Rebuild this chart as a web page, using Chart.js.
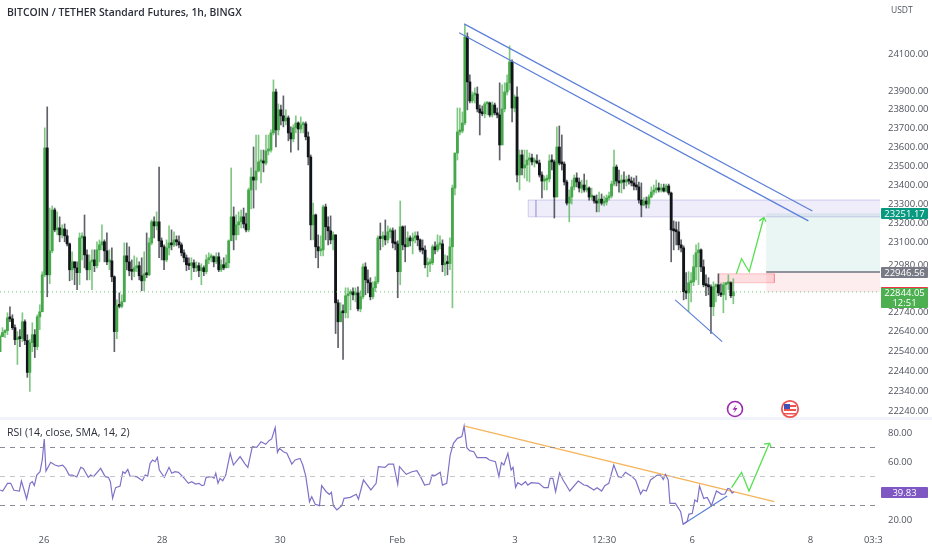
<!DOCTYPE html>
<html>
<head>
<meta charset="utf-8">
<script src="https://cdn.jsdelivr.net/npm/chart.js@4"></script>
<style>
    html, body { margin: 0; padding: 0; background: #fff; }
    #wrap { position: relative; width: 932px; height: 550px; overflow: hidden; font-family: 'Open Sans', sans-serif; }
    canvas { position: absolute; left: 0; }
    #priceChart { top: 0; }
    #rsiChart { top: 420px; }
    #sep { position: absolute; left: 0; top: 417px; width: 932px; height: 3px; background: #f0f3fa; }
    .txt { position: absolute; white-space: nowrap; }
    .title { left: 7px; top: 5px; font-size: 10.4px; font-weight: 600; color: #2a2e39; }
    .rsi { left: 7px; top: 425px; font-size: 10.5px; color: #2a2e39; }
    .unit { left: 891px; top: 4px; font-size: 8.5px; color: #50535e; }
    .tag { position: absolute; left: 881px; width: 47px; color: #fff; font-size: 9.5px; text-align: center; border-radius: 1px; line-height: 11px; }
    .icon { position: absolute; }
</style>
</head>
<body>
<div id="wrap">
    <canvas id="priceChart" width="932" height="418"></canvas>
    <div id="sep"></div>
    <canvas id="rsiChart" width="932" height="130"></canvas>

    <div class="txt title">BITCOIN / TETHER Standard Futures, 1h, BINGX</div>
    <div class="txt rsi">RSI (14, close, SMA, 14, 2)</div>
    <div class="txt unit">USDT</div>

    <div class="tag" style="top:208px;background:#089981;">23251.17</div>
    <div class="tag" style="top:267px;background:#787b86;">22946.56</div>
    <div class="tag" style="top:287px;height:20px;line-height:10px;background:#4caf50;border-top:1px solid #f23645;">22844.05<br>12:51</div>
    <div class="tag" style="top:487px;background:#7e57c2;">39.83</div>

    <svg class="icon" style="left:726px;top:400px" width="18" height="18" viewBox="0 0 18 18">
        <circle cx="9" cy="9" r="7.5" fill="#fff" stroke="#9c27b0" stroke-width="1.6"/>
        <path d="M10.5 4.5 L6.5 9.8 H9 L7.5 13.5 L11.5 8 H9 Z" fill="#9c27b0"/>
    </svg>
    <svg class="icon" style="left:780px;top:399px" width="20" height="20" viewBox="0 0 20 20">
        <circle cx="10" cy="10" r="8.2" fill="#fff" stroke="#ef5350" stroke-width="1.8"/>
        <rect x="4" y="6" width="12" height="2" fill="#ef5350"/>
        <rect x="4" y="10" width="12" height="2" fill="#ef5350"/>
        <rect x="4" y="14" width="12" height="1.5" fill="#ef5350"/>
        <rect x="4" y="5" width="6" height="5" fill="#3f51b5"/>
    </svg>
</div>

<script>
// x axis is in bar numbers, bar 0 sits on the left edge
const xEnd = 354;
const xTickBars = [17.7, 65.2, 112.7, 159.8, 207.2, 243, 278.5, 326, 351.3];
const xTickLabels = ['26', '28', '30', 'Feb', '3', '12:30', '6', '8', '03:3'];

const priceTicks = [24100, 23900, 23800, 23700, 23600, 23500, 23400, 23300, 23200, 23100, 22980, 22740, 22640, 22540, 22440, 22340, 22240];
const rsiTicks = [80, 60, 20];

const firstOpen = 22539;
const closes = [
    22615,22636,22646,22711,22706,22661,22600,22610,22605,22691,22595,22434,22585,22625,22564,22716,22742,22932,23596,22932,
    23056,23269,23165,23175,23139,23170,23134,23092,22958,22999,22968,22943,23123,23129,23035,22958,22999,23009,22979,23061,
    23087,23103,23056,22999,23004,22922,22641,22773,22770,22793,23030,22999,22953,22950,22968,22979,22927,22901,22937,22932,
    23097,23207,23186,23207,23108,23077,23009,23071,23097,23087,23113,23103,23087,23046,23020,22984,22980,22994,22968,22979,
    22953,22968,22948,23009,23020,23025,22999,23025,22958,22984,22968,22994,23108,23233,23139,23191,23207,23233,23196,23165,
    23374,23442,23426,23474,23522,23527,23516,23580,23585,23676,23895,23692,23799,23767,23740,23756,23676,23644,23703,23729,
    23697,23719,23724,23655,23548,23191,23243,23077,23056,23061,23285,23181,23160,23113,23139,22788,22691,22742,22737,22824,
    22834,22845,22829,22839,22757,22819,22973,22906,22891,22819,22865,22896,23123,23120,23134,23113,23155,23160,23097,23092,
    22948,23181,23087,23077,23123,23108,23123,23134,23113,23061,23060,22984,22989,22994,23077,23061,23087,23092,22984,22994,
    22990,23077,23384,23569,23681,23686,23729,24193,23949,23847,23879,23884,23804,23783,23778,23831,23836,23772,23825,23783,
    23772,23612,23804,23895,23944,24057,23809,23868,23453,23559,23490,23506,23532,23543,23522,23527,23516,23453,23421,23426,
    23432,23527,23522,23337,23601,23516,23511,23416,23305,23337,23390,23437,23416,23384,23400,23374,23384,23337,23342,23316,
    23305,23326,23305,23311,23332,23342,23405,23495,23421,23411,23426,23416,23426,23421,23411,23395,23390,23321,23295,23316,
    23300,23337,23363,23374,23384,23374,23384,23368,23395,23358,23165,23160,23155,23087,23071,22845,22839,22891,22896,22973,
    23046,23061,22973,22881,22876,22870,22768,22870,22881,22839,22829,22881,22886,22891,22824,22845
];
const highs = [
    22625,22661,22651,22737,22768,22727,22676,22641,22651,22737,22701,22625,22600,22686,22651,22727,22778,22948,23703,23815,
    23279,23290,23279,23259,23233,23191,23196,23165,23097,23051,22999,22999,23149,23149,23243,23061,23035,23061,23061,23103,
    23113,23191,23113,23149,23061,23071,22927,22803,22839,22829,23097,23097,23077,23009,23030,23020,22999,23020,23051,23149,
    23123,23217,23233,23259,23495,23123,23087,23113,23186,23165,23155,23134,23134,23097,23061,23035,23020,23020,23009,22999,
    22994,22989,22979,23035,23046,23040,23030,23046,23046,23009,23020,23035,23113,23490,23285,23243,23259,23269,23279,23253,
    23384,23490,23601,23665,23665,23585,23585,23665,23665,23692,23960,23911,23831,23825,23874,23799,23767,23708,23719,23767,
    23735,23761,23735,23735,23681,23559,23305,23248,23139,23134,23295,23300,23233,23238,23155,23139,22803,22788,22778,22865,
    22865,22855,22865,22865,22870,22850,22989,22994,22958,22917,22896,22922,23134,23201,23155,23217,23186,23175,23175,23165,
    23108,23316,23186,23186,23155,23134,23149,23155,23155,23118,23113,23082,23020,23015,23087,23103,23139,23134,23113,23035,
    23030,23123,23400,23569,23809,23809,23788,24258,24215,23987,23895,23917,23922,23825,23820,23841,23841,23841,23841,23836,
    23809,23944,23933,23944,23987,24144,24068,23879,23922,23585,23585,23585,23585,23569,23564,23543,23559,23532,23469,23448,
    23453,23559,23559,23532,23708,23713,23665,23522,23426,23374,23426,23453,23464,23437,23426,23458,23426,23390,23384,23342,
    23348,23363,23353,23342,23348,23363,23421,23585,23506,23479,23453,23469,23448,23453,23442,23437,23448,23416,23411,23332,
    23337,23348,23390,23400,23426,23411,23405,23405,23405,23405,23363,23212,23207,23207,23113,23082,22943,22948,22943,23035,
    23087,23097,23066,23009,22932,22917,22881,22896,22886,22937,22886,22891,22891,22932,22896,22912
];
const lows = [
    22539,22615,22610,22625,22691,22651,22575,22474,22564,22590,22575,22409,22338,22539,22509,22549,22651,22752,22922,22819,
    22886,23046,23155,23139,23103,23123,23103,23082,22901,22906,22881,22855,22881,23009,22968,22906,22906,22855,22948,22968,
    22999,23061,22999,22984,22958,22896,22539,22605,22762,22762,22803,22958,22927,22906,22922,22948,22906,22850,22850,22917,
    22927,23087,23123,23165,23020,23009,22958,22999,23035,23061,23077,23082,23071,23030,22999,22953,22958,22906,22948,22948,
    22922,22881,22927,22937,22989,22999,22973,22989,22948,22948,22958,22968,22968,23113,23061,23113,23139,23175,23175,23155,
    23155,23274,23279,23374,23469,23411,23469,23506,23559,23574,23665,23601,23665,23719,23708,23719,23634,23574,23628,23676,
    23585,23676,23676,23639,23506,23113,23113,23020,22968,23030,23030,23113,23087,23092,23061,22631,22559,22691,22499,22711,
    22711,22752,22803,22793,22747,22742,22808,22829,22839,22803,22808,22845,22886,23061,23077,23087,23097,23123,23071,23061,
    22814,22881,23061,22999,23087,23082,23040,23097,23082,23051,23040,22968,22922,22948,22984,23040,23051,23066,22948,22927,
    22932,22958,22762,23348,23532,23665,23676,23719,23799,23836,23836,23836,23788,23665,23767,23756,23772,23761,23761,23772,
    23756,23532,23612,23788,23879,23906,23735,23788,23416,23374,23453,23437,23421,23416,23506,23495,23511,23442,23332,23374,
    23374,23416,23479,23227,23337,23506,23479,23400,23295,23207,23300,23374,23390,23363,23358,23363,23363,23321,23321,23305,
    23259,23259,23295,23290,23295,23321,23332,23395,23395,23363,23358,23379,23395,23405,23395,23374,23374,23305,23233,23290,
    23279,23279,23332,23348,23358,23363,23363,23363,23363,23348,22999,23061,23087,23061,23051,22803,22808,22742,22793,22876,
    22906,22881,22948,22870,22824,22829,22631,22722,22793,22824,22819,22737,22803,22855,22814,22783
];

const rsiBars = [
    0,1.1,3,4.3,5.6,7.8,8.6,9.7,10.7,12.1,13,13.8,14.8,16.1,17,17.8,18.5,20.4,22.1,23.5,25.2,26.4,27.8,29.1,30.9,32.5,33.5,35.5,36.5,37.6,
    40.5,42.3,43.6,44.4,45.3,46.5,48.3,49.4,50.3,51.4,52.3,55,57.3,58.4,59.4,60.4,61.4,62.4,63.3,64.1,66.1,68,69.1,70.4,71.8,73.8,75.8,77.1,78.7,80.1,
    81.2,82.1,82.9,85.2,86.1,86.8,87.7,88.5,89.6,90.8,92.6,93.9,96.6,98.6,99.7,101.5,103.3,105,106.9,108.2,109.3,110.7,111.6,112.4,114,115.4,117.4,118.7,120.7,121.8,
    123,124.5,125.4,126.8,128.5,129.4,131.2,132.5,133.3,134.1,135.5,137.5,138.4,140.9,143.3,144.2,146.2,149.2,151.3,152.2,154.9,156.3,158.3,160,160.7,163.4,165.7,167.7,169.3,170.8,
    172.8,173.8,175,177.1,178,179.7,181.1,182.4,184,185.8,186.7,187.8,188.9,190.6,191.9,195.6,196.9,199.3,200.7,201.7,202.7,204.3,205.6,206.4,207.4,208.3,209.8,211.4,212.3,213.7,
    216.8,218.8,220.5,221.3,222.4,223.5,225.1,226.5,229.2,232.6,234.9,236.2,238.9,240.2,242,243.3,244.9,246.9,248.7,250,251.6,254.3,255.7,257.7,258.7,260,261.7,264.4,265.7,266.8,
    267.7,268.8,269.5,271.7,273.8,274.8,276.4,277.1,278.5,279.5,280.5,281.4,283.1,284.5,286.2,288.2,290.3,291.6,292.8,293.6,294.5,295.2
];
const rsiValues = [
    40.7,40,45.3,45.3,40.5,40,46.9,40.7,34.5,45.3,46.4,43.7,51,53.3,61.4,75.9,53.8,59.8,57.9,57.2,57.9,55.6,51,51,49.7,56.3,55.6,49.4,51,49.9,
    55.6,49.9,49.4,46.4,34.9,42.3,43.4,53.3,52.2,54.9,50.3,49.9,47.1,51,50.3,59.1,61.4,60.2,63.2,54.5,49.4,56.3,52.2,53.3,52.9,49.4,45.3,46.4,44.8,45.3,
    43.7,44.1,49.4,49.9,48.7,52.2,45.3,48.7,47.1,51,66,57.9,63.7,58.6,56.3,70.6,70.1,74,72.2,74.7,75.9,83.7,66.7,69.4,67.1,66,58.6,61.4,62.5,57.9,
    50.3,32.6,36.1,30.8,29.9,43.7,39.5,37.7,39.1,29.9,26.9,29.9,34.9,35.6,37.7,34.3,47.6,40.7,45.3,56.8,56.3,58.6,58.6,44.6,56.8,51.5,53.3,54,49.4,44.1,
    44.8,51,50.6,52.9,44.1,45.3,64.8,72.9,76.3,77.5,84.8,69.9,67.8,67.1,63,63,61.4,60.2,49.9,59.5,57.9,66,54.5,56.3,42.5,45.7,44.1,46.4,44.1,45.7,
    45.3,42.3,42.3,48.7,48.7,39.5,52.6,47.6,40,46.9,44.1,43.7,40.7,42.3,40,43.7,45.3,57.9,49.9,49.4,52.9,49.9,47.6,37.9,40.7,40,47.6,51,51,48,
    51.5,47.6,31.5,31.5,25.7,17,18.9,23.9,24.6,33.8,32.6,43.4,34.9,35.6,29.9,40,37.7,37.9,41.8,41.4,38.6,39.5
];

const lastPrice = 22844.05;
const entryPrice = 22946.56;
const targetPrice = 23251.17;

// drawings on the price pane
const upperTrendBars = [186.7, 326.8], upperTrendPrices = [24264, 23264];
const lowerTrendBars = [184.7, 325.2], lowerTrendPrices = [24215, 23212];
const wedgeBars = [271.6, 290.5], wedgePrices = [22803, 22590];
const pathBars = [296.2, 298.3, 301.4, 307.2], pathPrices = [22937, 23015, 22948, 23227];
const pathHeadBars = [305.4, 307.3, 308.1], pathHeadPrices = [23212, 23230, 23207];
const zoneBars = [212.5, 355], zonePrices = [23321, 23233];
const zoneEdgeBar = 215.6;
const profitBars = [308.2, 355], profitPrices = [targetPrice, entryPrice];
const stopBars = [308.2, 355], stopPrices = [entryPrice, lastPrice];
const smallBoxBars = [289, 311.5], smallBoxPrices = [22937, 22891];

// drawings on the rsi pane
const rsiLevels = [70, 50, 30];
const rsiFallBars = [187, 311.5], rsiFallValues = [84.8, 32.6];
const rsiRiseBars = [274.8, 292.5], rsiRiseValues = [17, 36.5];
const rsiPathBars = [294.3, 298.3, 301.3, 309.3], rsiPathValues = [42.3, 52.9, 40, 72.2];
const rsiHeadBars = [307.3, 309.6, 310.2], rsiHeadValues = [72.4, 72.9, 69.9];

const pts = (xs, ys) => xs.map((x, i) => ({ x: x, y: ys[i] }));

const lineSet = (data, color, width, dash) => ({
    type: 'line', data: data, borderColor: color, borderWidth: width, borderDash: dash || [],
    pointRadius: 0, fill: false, tension: 0, order: 1
});

const boxSet = (bars, prices, fillColor, lineColor) => ({
    type: 'line',
    data: pts([bars[0], bars[1], bars[1], bars[0], bars[0]], [prices[0], prices[0], prices[1], prices[1], prices[0]]),
    borderColor: lineColor, borderWidth: lineColor === 'transparent' ? 0 : 1, backgroundColor: fillColor,
    pointRadius: 0, fill: 'shape', tension: 0, order: 5
});

const isUp = closes.map((c, i) => c >= (i ? closes[i - 1] : firstOpen));

new Chart(document.getElementById('priceChart'), {
    type: 'bar',
    data: {
        datasets: [
            boxSet(zoneBars, zonePrices, 'rgba(103,88,200,0.11)', 'rgba(120,110,200,0.3)'),
            boxSet(profitBars, profitPrices, 'rgba(8,153,129,0.09)', 'transparent'),
            boxSet(stopBars, stopPrices, 'rgba(242,54,69,0.09)', 'transparent'),
            boxSet(smallBoxBars, smallBoxPrices, 'rgba(242,54,69,0.16)', 'rgba(242,120,130,0.4)'),
            lineSet(pts([zoneEdgeBar, zoneEdgeBar], zonePrices), 'rgba(120,110,200,0.3)', 1),
            {
                label: 'wicks',
                data: highs.map((h, i) => ({ x: i, y: [lows[i], h] })),
                backgroundColor: isUp.map(u => u ? 'rgba(76,175,80,0.7)' : 'rgba(40,44,52,0.75)'),
                barThickness: 1, grouped: false, order: 3
            },
            {
                label: 'bodies',
                data: closes.map((c, i) => ({ x: i, y: [i ? closes[i - 1] : firstOpen, c] })),
                backgroundColor: isUp.map(u => u ? '#46a84b' : '#111418'),
                barThickness: 2.2, minBarLength: 2, grouped: false, order: 2
            },
            lineSet(pts([0, xEnd], [lastPrice, lastPrice]), 'rgba(76,175,80,0.8)', 1, [1, 3]),
            lineSet(pts(profitBars, [entryPrice, entryPrice]), '#6f7280', 1.4),
            lineSet(pts(upperTrendBars, upperTrendPrices), '#5b7fd8', 1.2),
            lineSet(pts(lowerTrendBars, lowerTrendPrices), '#5b7fd8', 1.2),
            lineSet(pts(wedgeBars, wedgePrices), '#5b7fd8', 1.2),
            lineSet(pts(pathBars, pathPrices), '#55e04f', 1.3),
            lineSet(pts(pathHeadBars, pathHeadPrices), '#55e04f', 1.3)
        ]
    },
    options: {
        responsive: false, animation: false, events: [],
        layout: { padding: 0 },
        plugins: { legend: { display: false }, tooltip: { enabled: false } },
        scales: {
            x: { type: 'linear', display: false, offset: false, min: 0, max: xEnd },
            y: {
                type: 'logarithmic', position: 'right', min: 22205, max: 24394.6,
                grid: { display: false, drawTicks: false }, border: { display: false },
                afterBuildTicks: s => { s.ticks = priceTicks.map(v => ({ value: v })); },
                afterFit: s => { s.width = 52; s.paddingTop = 0; s.paddingBottom = 0; },
                ticks: {
                    autoSkip: false, padding: 8, color: '#50535e', maxRotation: 0,
                    font: { family: "'Open Sans', sans-serif", size: 9.5 },
                    callback: v => Number(v).toFixed(2)
                }
            }
        }
    }
});

new Chart(document.getElementById('rsiChart'), {
    type: 'line',
    data: {
        datasets: [
            lineSet(pts([0, xEnd], [rsiLevels[0], rsiLevels[0]]), '#8a8d96', 1, [5, 5]),
            lineSet(pts([0, xEnd], [rsiLevels[1], rsiLevels[1]]), '#c4c6cc', 1, [5, 5]),
            lineSet(pts([0, xEnd], [rsiLevels[2], rsiLevels[2]]), '#8a8d96', 1, [5, 5]),
            lineSet(pts(rsiBars, rsiValues), '#7e72c8', 1.2),
            lineSet(pts(rsiFallBars, rsiFallValues), '#f5b45a', 1.3),
            lineSet(pts(rsiRiseBars, rsiRiseValues), '#5b7fd8', 1.2),
            lineSet(pts(rsiPathBars, rsiPathValues), '#55e04f', 1.3),
            lineSet(pts(rsiHeadBars, rsiHeadValues), '#55e04f', 1.3)
        ]
    },
    options: {
        responsive: false, animation: false, events: [],
        layout: { padding: 0 },
        plugins: { legend: { display: false }, tooltip: { enabled: false } },
        scales: {
            x: {
                type: 'linear', min: 0, max: xEnd,
                grid: { display: false, drawTicks: false }, border: { display: false },
                afterBuildTicks: s => { s.ticks = xTickBars.map(v => ({ value: v })); },
                afterFit: s => { s.height = 17; s.paddingLeft = 0; s.paddingRight = 0; },
                ticks: {
                    autoSkip: false, padding: 2, color: '#50535e', maxRotation: 0,
                    font: { family: "'Open Sans', sans-serif", size: 9.5 },
                    callback: v => xTickLabels[xTickBars.indexOf(v)]
                }
            },
            y: {
                position: 'right', min: 11.03, max: 88.97,
                grid: { display: false, drawTicks: false }, border: { display: false },
                afterBuildTicks: s => { s.ticks = rsiTicks.map(v => ({ value: v })); },
                afterFit: s => { s.width = 52; s.paddingTop = 0; s.paddingBottom = 0; },
                ticks: {
                    autoSkip: false, padding: 8, color: '#50535e',
                    font: { family: "'Open Sans', sans-serif", size: 9.5 },
                    callback: v => Number(v).toFixed(2)
                }
            }
        }
    }
});
</script>
</body>
</html>
